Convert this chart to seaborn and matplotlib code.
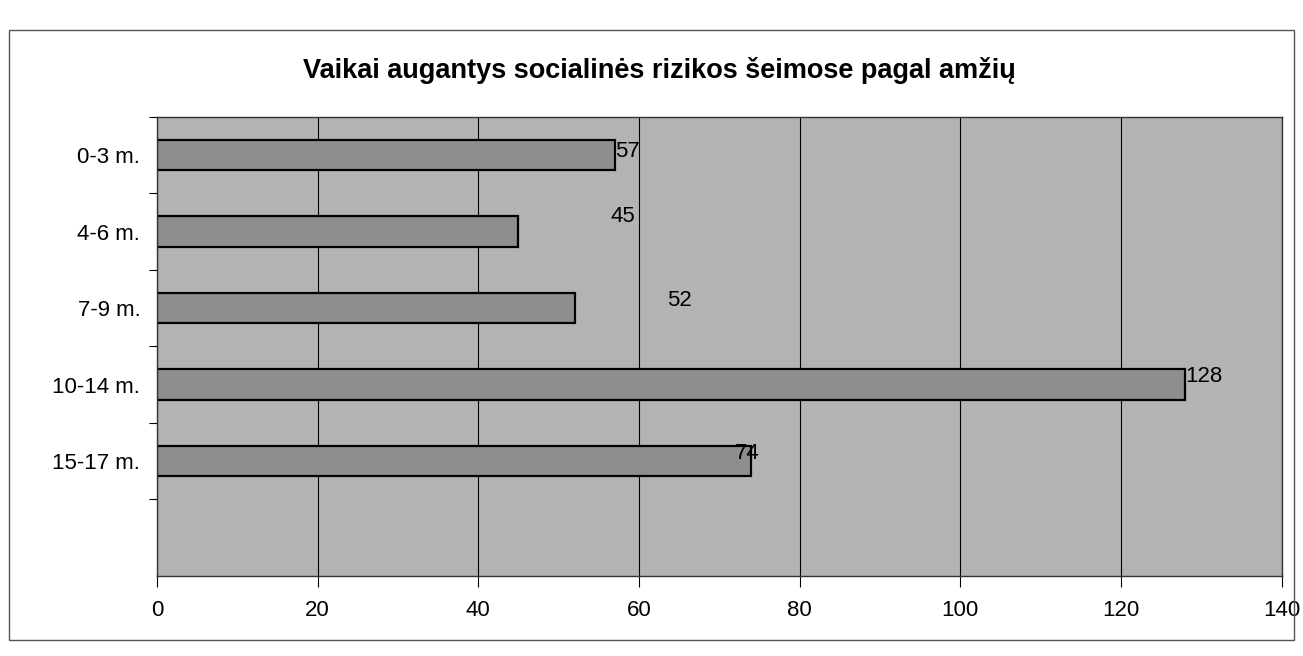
import pandas as pd
import matplotlib.pyplot as plt
import seaborn as sns
from matplotlib.patches import Rectangle

# chart data
age_groups = ['0-3 m.', '4-6 m.', '7-9 m.', '10-14 m.', '15-17 m.']
children = [57, 45, 52, 128, 74]
x_ticks = [0, 20, 40, 60, 80, 100, 120, 140]
title = 'Vaikai augantys socialinės rizikos šeimose pagal amžių'

# where the value labels sit relative to the bar end (data units), as in the scan
label_dx = [0, 11.5, 11.5, 0, -2]
label_dy = [-0.05, -0.2, -0.1, -0.1, -0.1]

sns.set_theme(style='white')
plt.rcParams['font.family'] = ['Liberation Sans', 'DejaVu Sans']
plt.rcParams['text.color'] = 'black'
plt.rcParams['xtick.color'] = 'black'
plt.rcParams['ytick.color'] = 'black'

df = pd.DataFrame({'age': age_groups, 'n': children})

fig = plt.figure(figsize=(13.03, 6.56), dpi=100)
fig.patch.set_facecolor('white')
ax = fig.add_axes([0.1205, 0.122, 0.863, 0.70])

sns.barplot(data=df, x='n', y='age', order=age_groups, color='#8e8e8e',
            edgecolor='black', linewidth=1.6, width=0.4, saturation=1, ax=ax)

ax.set_facecolor('#b3b3b3')
ax.set_xlim(0, 140)
ax.set_ylim(5.5, -0.5)
ax.set_xticks(x_ticks)
ax.set_xticklabels([str(t) for t in x_ticks], fontsize=16)
ax.grid(axis='x', color='black', linewidth=0.8)
ax.set_axisbelow(True)
ax.tick_params(axis='x', direction='out', length=8, width=0.8, color='black',
               pad=9, bottom=True)

ax.set_yticks(range(len(age_groups)))
ax.set_yticklabels(age_groups, fontsize=16)
ax.set_yticks([i + 0.5 for i in range(-1, len(age_groups))], minor=True)
ax.tick_params(axis='y', which='major', length=0, pad=12)
ax.tick_params(axis='y', which='minor', direction='out', length=6, width=0.8,
               color='black', left=True)
ax.set_xlabel('')
ax.set_ylabel('')

for side in ['left', 'bottom', 'top', 'right']:
    ax.spines[side].set_visible(True)
    ax.spines[side].set_color('#333333')
    ax.spines[side].set_linewidth(1.0)

for i, v in enumerate(children):
    ax.text(v + label_dx[i], i + label_dy[i], str(v), ha='left', va='center',
            fontsize=16, color='black')

fig.text(0.506, 0.893, title, ha='center', va='center', fontsize=19.5,
         fontweight='bold', color='black')

fig.patches.append(Rectangle((0.007, 0.025), 0.986, 0.93, transform=fig.transFigure,
                             fill=False, edgecolor='#555555', linewidth=1.0))

fig.savefig('out.png', dpi=100)
